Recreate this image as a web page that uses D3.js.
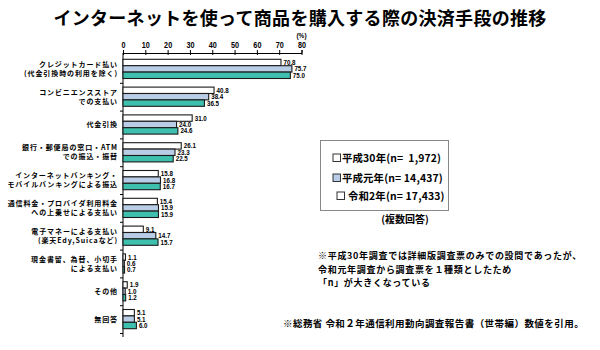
<!DOCTYPE html>
<html><head><meta charset="utf-8">
<script src="https://cdn.jsdelivr.net/npm/d3@7"></script>
<style>
body{margin:0;background:#fff;}
svg{display:block;font-family:"Noto Sans CJK JP","Noto Sans",sans-serif;}
</style></head>
<body><svg id="c" width="600" height="350"></svg>
<script>
const categories = [
  ["クレジットカード払い","(代金引換時の利用を除く)"],
  ["コンビニエンスストア","での支払い"],
  ["代金引換"],
  ["銀行・郵便局の窓口・ATM","での振込・振替"],
  ["インターネットバンキング・","モバイルバンキングによる振込"],
  ["通信料金・プロバイダ利用料金","への上乗せによる支払い"],
  ["電子マネーによる支払い","(楽天Edy,Suicaなど)"],
  ["現金書留、為替、小切手","による支払い"],
  ["その他"],
  ["無回答"]
];
const h30 = [70.8,40.8,31.0,26.1,15.8,15.4,9.1,1.1,1.9,5.1];
const r1  = [75.7,38.4,24.0,23.3,16.8,15.9,14.7,0.6,1.0,5.1];
const r2  = [75.0,36.5,24.6,22.5,16.7,15.9,15.7,0.7,1.2,6.0];
const seriesNames = ["平成30年(n=  1,972)","平成元年(n= 14,437)","令和2年(n= 17,433)"];
const xTicks = [0,10,20,30,40,50,60,70,80];

const colors = ["#ffffff","#b9cde6","#3fbfad"];
const legendSwatch = ["#ffffff","#b9cde6","#ffffff"];
const series = [h30,r1,r2];

const svg = d3.select("#c");
const x = d3.scaleLinear().domain([0,80]).range([123,301.5]);
const y = d3.scaleBand().domain(d3.range(categories.length)).range([55,333]);
const barH = 6.4;

// title
svg.append("text").attr("x",300).attr("y",25).attr("text-anchor","middle")
  .attr("font-size",18).attr("font-weight",700).attr("letter-spacing",0.3)
  .text("インターネットを使って商品を購入する際の決済手段の推移");

// top axis
const axisTop = d3.axisTop(x).tickValues(xTicks).tickSize(3).tickPadding(2);
const gx = svg.append("g").attr("transform","translate(0,53)").call(axisTop);
gx.select(".domain").attr("stroke","#000").attr("stroke-width",1);
gx.selectAll(".tick line").attr("y1",2).attr("y2",-3).attr("stroke","#000");
gx.selectAll(".tick text").attr("font-size",8.5).attr("font-weight",700)
  .attr("font-family","Liberation Sans, Arial, sans-serif").attr("fill","#000")
  .attr("transform","scale(0.85,1)");
svg.append("text").attr("x",x(80)).attr("y",38).attr("text-anchor","middle")
  .attr("font-size",6.5).attr("font-weight",700).attr("font-family","Liberation Sans, Arial, sans-serif")
  .text("(%)");

// left axis
svg.append("line").attr("x1",x(0)).attr("x2",x(0)).attr("y1",53).attr("y2",337)
  .attr("stroke","#000").attr("stroke-width",1);
const bounds = d3.range(categories.length+1).map(i => y.range()[0] + i*y.step());
svg.selectAll(".ltick").data(bounds.slice(1)).enter().append("line")
  .attr("x1",x(0)-3).attr("x2",x(0)).attr("y1",d=>d+0.5).attr("y2",d=>d+0.5)
  .attr("stroke","#000");

// bars
series.forEach((vals,si)=>{
  const g = svg.append("g");
  g.selectAll("rect").data(vals).enter().append("rect")
    .attr("x",x(0))
    .attr("y",(d,i)=> y(i)+y.bandwidth()/2 - 1.5*barH + si*barH)
    .attr("width",d=> x(d)-x(0))
    .attr("height",barH)
    .attr("fill",colors[si]).attr("stroke","#1a1a1a").attr("stroke-width",1.1);
  g.selectAll("g.lbl").data(vals).enter().append("g")
    .attr("transform",(d,i)=>`translate(${x(d)+2.5},${y(i)+y.bandwidth()/2 - 1.5*barH + si*barH + barH/2 + 2.5})`)
    .append("text").attr("font-size",7.6).attr("font-weight",700)
    .attr("font-family","Liberation Sans, Arial, sans-serif")
    .attr("transform","scale(0.82,1)")
    .text(d=>d.toFixed(1));
});

// category labels
categories.forEach((lines,i)=>{
  const cy = y(i)+y.bandwidth()/2;
  const t = svg.append("text").attr("text-anchor","end").attr("font-size",7)
    .attr("font-weight",700).attr("letter-spacing",0.9);
  lines.forEach((ln,j)=>{
    t.append("tspan").attr("x",118)
      .attr("y", cy + (j - (lines.length-1)/2)*9 + 2.5)
      .text(ln);
  });
});

// legend
svg.append("rect").attr("x",320.5).attr("y",140.5).attr("width",128).attr("height",70)
  .attr("fill","#fff").attr("stroke","#888").attr("stroke-width",1);
const legY = [158,178,196];
const legX = [333,333,337];
seriesNames.forEach((n,i)=>{
  svg.append("rect").attr("x",legX[i]).attr("y",legY[i]-4).attr("width",7.5).attr("height",7.5)
    .attr("fill",legendSwatch[i]).attr("stroke","#333").attr("stroke-width",1);
  svg.append("text").attr("x",legX[i]+9+(i==2?2:0)).attr("y",legY[i]+4)
    .attr("font-size",10.4).attr("font-weight",700).attr("letter-spacing",0.15)
    .style("white-space","pre").text(n);
});
svg.append("text").attr("x",405).attr("y",223).attr("text-anchor","middle")
  .attr("font-size",10).attr("font-weight",700).text("(複数回答)");

// notes
const notes = ["※平成30年調査では詳細版調査票のみでの設問であったが、",
               "令和元年調査から調査票を１種類としたため",
               "「n」が大きくなっている"];
notes.forEach((n,i)=>{
  svg.append("text").attr("x",318).attr("y",259+i*13.5).attr("font-size",9)
    .attr("font-weight",700).attr("letter-spacing",0.7).text(n);
});
svg.append("text").attr("x",283).attr("y",327).attr("font-size",9.5)
  .attr("font-weight",700).attr("letter-spacing",0.45)
  .text("※総務省 令和２年通信利用動向調査報告書（世帯編）数値を引用。");
</script></body></html>
